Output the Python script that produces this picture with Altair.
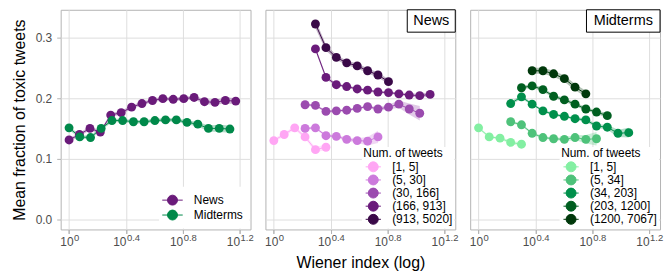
import altair as alt
import pandas as pd

FONT = "Liberation Sans"
GRID = "#dedede"
BORDER = "#b3b3b3"
TICKCOL = "#4d4d4d"

# ---------------- Left panel: overall ----------------
overall_groups = ["News", "Midterms"]
overall_colors = ["#6A1B7A", "#00894A"]

news_x = [0.0, 0.073, 0.147, 0.22, 0.293, 0.367, 0.44, 0.513, 0.587, 0.66, 0.733, 0.807, 0.88, 0.953, 1.027, 1.1, 1.173]
news_y = [0.131, 0.140, 0.150, 0.144, 0.172, 0.176, 0.185, 0.191, 0.196, 0.199, 0.198, 0.199, 0.201, 0.194, 0.193, 0.196, 0.195]
news_ci = [0.003, 0.003, 0.003, 0.003, 0.003, 0.003, 0.003, 0.003, 0.003, 0.003, 0.003, 0.003, 0.003, 0.004, 0.004, 0.005, 0.005]

mid_x = [0.0, 0.075, 0.151, 0.226, 0.302, 0.377, 0.453, 0.528, 0.604, 0.679, 0.755, 0.83, 0.906, 0.981, 1.057, 1.132]
mid_y = [0.151, 0.136, 0.135, 0.150, 0.163, 0.163, 0.161, 0.161, 0.163, 0.164, 0.164, 0.160, 0.157, 0.150, 0.150, 0.149]
mid_ci = [0.003, 0.003, 0.003, 0.003, 0.003, 0.003, 0.003, 0.003, 0.003, 0.003, 0.003, 0.003, 0.004, 0.005, 0.006, 0.006]

# ---------------- Middle panel: News by number of tweets ----------------
news_groups = ["[1, 5]", "(5, 30]", "(30, 166]", "(166, 913]", "(913, 5020]"]
news_colors = ["#FFA6F4", "#CC7ADC", "#9B4BAF", "#6A1B7B", "#3A0948"]
n1_x = [0.0, 0.073, 0.147, 0.22, 0.293, 0.367]
n1_y = [0.130, 0.140, 0.151, 0.136, 0.115, 0.119]
n1_ci = [0.003, 0.003, 0.003, 0.003, 0.004, 0.005]
n2_x = [0.22, 0.293, 0.367, 0.44, 0.513, 0.587, 0.66, 0.733]
n2_y = [0.150, 0.151, 0.138, 0.137, 0.132, 0.130, 0.129, 0.136]
n2_ci = [0.002, 0.002, 0.002, 0.002, 0.003, 0.004, 0.007, 0.010]
n3_x = [0.22, 0.293, 0.367, 0.44, 0.513, 0.587, 0.66, 0.733, 0.807, 0.88, 0.953, 1.027]
n3_y = [0.189, 0.188, 0.178, 0.179, 0.180, 0.183, 0.186, 0.182, 0.185, 0.190, 0.182, 0.175]
n3_ci = [0.002, 0.002, 0.002, 0.002, 0.002, 0.002, 0.002, 0.003, 0.004, 0.006, 0.009, 0.012]
n4_x = [0.293, 0.367, 0.44, 0.513, 0.587, 0.66, 0.733, 0.807, 0.88, 0.953, 1.027, 1.1]
n4_y = [0.281, 0.234, 0.222, 0.219, 0.215, 0.213, 0.210, 0.209, 0.207, 0.205, 0.204, 0.206]
n4_ci = [0.004, 0.003, 0.002, 0.002, 0.002, 0.002, 0.002, 0.002, 0.002, 0.003, 0.003, 0.004]
n5_x = [0.293, 0.367, 0.44, 0.513, 0.587, 0.66, 0.733, 0.807]
n5_y = [0.322, 0.283, 0.267, 0.258, 0.253, 0.245, 0.238, 0.227]
n5_ci = [0.007, 0.005, 0.004, 0.004, 0.004, 0.004, 0.004, 0.004]

# ---------------- Right panel: Midterms by number of tweets ----------------
mid_groups = ["[1, 5]", "(5, 34]", "(34, 203]", "(203, 1200]", "(1200, 7067]"]
mid_colors = ["#83EFA2", "#4EC27A", "#00904C", "#005F20", "#00380B"]
m1_x = [0.0, 0.075, 0.151, 0.226, 0.302]
m1_y = [0.151, 0.136, 0.134, 0.127, 0.124]
m1_ci = [0.002, 0.002, 0.002, 0.003, 0.003]
m2_x = [0.226, 0.302, 0.377, 0.453, 0.528, 0.604, 0.679, 0.755, 0.83]
m2_y = [0.161, 0.156, 0.142, 0.135, 0.133, 0.132, 0.135, 0.132, 0.133]
m2_ci = [0.002, 0.002, 0.002, 0.002, 0.002, 0.003, 0.004, 0.007, 0.011]
m3_x = [0.226, 0.302, 0.377, 0.453, 0.528, 0.604, 0.679, 0.755, 0.83, 0.906, 0.981, 1.057]
m3_y = [0.191, 0.202, 0.190, 0.179, 0.173, 0.170, 0.166, 0.164, 0.154, 0.152, 0.142, 0.143]
m3_ci = [0.003, 0.003, 0.002, 0.002, 0.002, 0.002, 0.002, 0.003, 0.003, 0.004, 0.006, 0.008]
m4_x = [0.302, 0.377, 0.453, 0.528, 0.604, 0.679, 0.755, 0.83, 0.906]
m4_y = [0.217, 0.220, 0.214, 0.203, 0.197, 0.190, 0.182, 0.177, 0.171]
m4_ci = [0.003, 0.003, 0.003, 0.003, 0.003, 0.003, 0.003, 0.003, 0.004]
m5_x = [0.377, 0.453, 0.528, 0.604, 0.679, 0.755]
m5_y = [0.245, 0.245, 0.240, 0.232, 0.218, 0.207]
m5_ci = [0.005, 0.005, 0.005, 0.005, 0.005, 0.005]

X_TICKS = [0.0, 0.4, 0.8, 1.2]
Y_TICKS = [0.0, 0.1, 0.2, 0.3]
X_DOMAIN = [-0.059, 1.277]
Y_DOMAIN = [-0.0164, 0.3454]
W = 191
H = 221


def build(groups, xs, ys, cis):
    rows = []
    for g, gx, gy, gc in zip(groups, xs, ys, cis):
        for a, b, c in zip(gx, gy, gc):
            rows.append({"g": g, "x": a, "y": b, "lo": b - c, "hi": b + c})
    return pd.DataFrame(rows)


def sym_path(half_line, r):
    return (f"M-{half_line},0L{half_line},0M-{r},0A{r},{r},0,1,1,{r},0"
            f"A{r},{r},0,1,1,-{r},0Z")


def x_main(title):
    kw = dict(
        values=X_TICKS, labelExpr="'10'", labelAlign="right",
        labelOffset={"condition": {"test": "datum.value == 0", "value": 4}, "value": 0},
        labelFontSize=12, labelColor=TICKCOL, labelPadding=3.5, labelOverlap=False,
        labelFlush=False, tickColor=BORDER, tickSize=4, grid=True, gridColor=GRID,
        domain=False, orient="bottom",
    )
    if title:
        kw.update(title=title, titleFontSize=16, titleFontWeight="normal",
                  titleColor="black", titlePadding=7)
    else:
        kw.update(title=None)
    return alt.Axis(**kw)


x_exp = alt.Axis(
    values=X_TICKS,
    labelExpr="datum.value == 0 ? '0' : format(datum.value, '.1f')",
    labelAlign="left",
    labelOffset={"condition": {"test": "datum.value == 0", "value": 4.5}, "value": 0.5},
    labelFontSize=9.5, labelColor=TICKCOL, labelPadding=-0.5, labelOverlap=False,
    labelFlush=False, tickColor=BORDER, tickSize=4, grid=False, domain=False,
    orient="bottom", title=None,
)


def y_axis(show):
    if show:
        return alt.Axis(values=Y_TICKS, format=".1f", labelFontSize=12, labelColor=TICKCOL,
                        labelPadding=5, tickColor=BORDER, tickSize=4, grid=True,
                        gridColor=GRID, domain=False, title="Mean fraction of toxic tweets",
                        titleFontSize=16, titleFontWeight="normal", titleColor="black",
                        titlePadding=8)
    return alt.Axis(values=Y_TICKS, labels=False, ticks=False, domain=False, grid=True,
                    gridColor=GRID, title=None)


def panel(df, groups, colors, legend, show_y=False, xtitle=None, strip=None, strip_w=0):
    xs = alt.Scale(domain=X_DOMAIN, nice=False, zero=False)
    ys = alt.Scale(domain=Y_DOMAIN, nice=False, zero=False)
    cs = alt.Scale(domain=groups, range=colors)
    yax = y_axis(show_y)
    base = alt.Chart(df)
    band = base.mark_area(opacity=0.3).encode(
        x=alt.X("x:Q", scale=xs, axis=None),
        y=alt.Y("lo:Q", scale=ys, axis=yax),
        y2="hi:Q",
        color=alt.Color("g:N", scale=cs, legend=legend),
    )
    line = base.mark_line(strokeWidth=1).encode(
        x=alt.X("x:Q", scale=xs, axis=x_exp),
        y=alt.Y("y:Q", scale=ys, axis=yax),
        color=alt.Color("g:N", scale=cs, legend=legend),
    )
    pts = base.mark_circle(size=80, opacity=1).encode(
        x=alt.X("x:Q", scale=xs, axis=x_main(xtitle)),
        y=alt.Y("y:Q", scale=ys, axis=yax),
        color=alt.Color("g:N", scale=cs, legend=legend),
    )
    layers = [band, line, pts]
    if strip:
        sdf = pd.DataFrame({"label": [strip]})
        box = alt.Chart(sdf).mark_rect(fill="white", stroke="black", strokeWidth=1).encode(
            x=alt.value(W - strip_w), x2=alt.value(W), y=alt.value(0), y2=alt.value(22.5))
        txt = alt.Chart(sdf).mark_text(fontSize=14.5, color="black", align="center",
                                       baseline="middle").encode(
            x=alt.value(W - strip_w / 2), y=alt.value(11.8), text="label:N")
        layers += [box, txt]
    return alt.layer(*layers).resolve_axis(x="independent").properties(width=W, height=H)


left_df = build(overall_groups, [news_x, mid_x], [news_y, mid_y], [news_ci, mid_ci])
news_df = build(news_groups, [n1_x, n2_x, n3_x, n4_x, n5_x], [n1_y, n2_y, n3_y, n4_y, n5_y],
                [n1_ci, n2_ci, n3_ci, n4_ci, n5_ci])
midt_df = build(mid_groups, [m1_x, m2_x, m3_x, m4_x, m5_x], [m1_y, m2_y, m3_y, m4_y, m5_y],
                [m1_ci, m2_ci, m3_ci, m4_ci, m5_ci])

left_legend = alt.Legend(title=None, orient="bottom-right", offset=1, padding=6,
                         fillColor="white", symbolType=sym_path(1.47, 0.714), symbolSize=196,
                         symbolStrokeWidth=1, symbolOpacity=1, symbolOffset=0,
                         labelOffset=14, labelFontSize=12, labelColor="black", rowPadding=0)


def count_legend():
    return alt.Legend(title="Num. of tweets", titleFontSize=12, titleFontWeight="normal",
                      titleColor="black", titlePadding=0.5, orient="bottom-right", offset=1,
                      padding=1.5, fillColor="white", symbolType=sym_path(1.53, 1.0),
                      symbolSize=100, symbolStrokeWidth=1, symbolOpacity=1, symbolOffset=4,
                      labelOffset=13, labelFontSize=12, labelColor="black", rowPadding=-0.8)


p1 = panel(left_df, overall_groups, overall_colors, left_legend, show_y=True)
p2 = panel(news_df, news_groups, news_colors, count_legend(), xtitle="Wiener index (log)",
           strip="News", strip_w=48.3)
p3 = panel(midt_df, mid_groups, mid_colors, count_legend(), strip="Midterms", strip_w=74)

chart = (
    alt.hconcat(p1, p2, p3, spacing=9)
    .resolve_scale(x="independent", y="independent", color="independent")
    .properties(padding={"left": 2, "top": 0, "right": 0, "bottom": 0})
    .configure(font=FONT)
    .configure_view(stroke=BORDER, strokeWidth=1)
)

chart.save("out.html", embed_options={"renderer": "svg", "actions": False})
